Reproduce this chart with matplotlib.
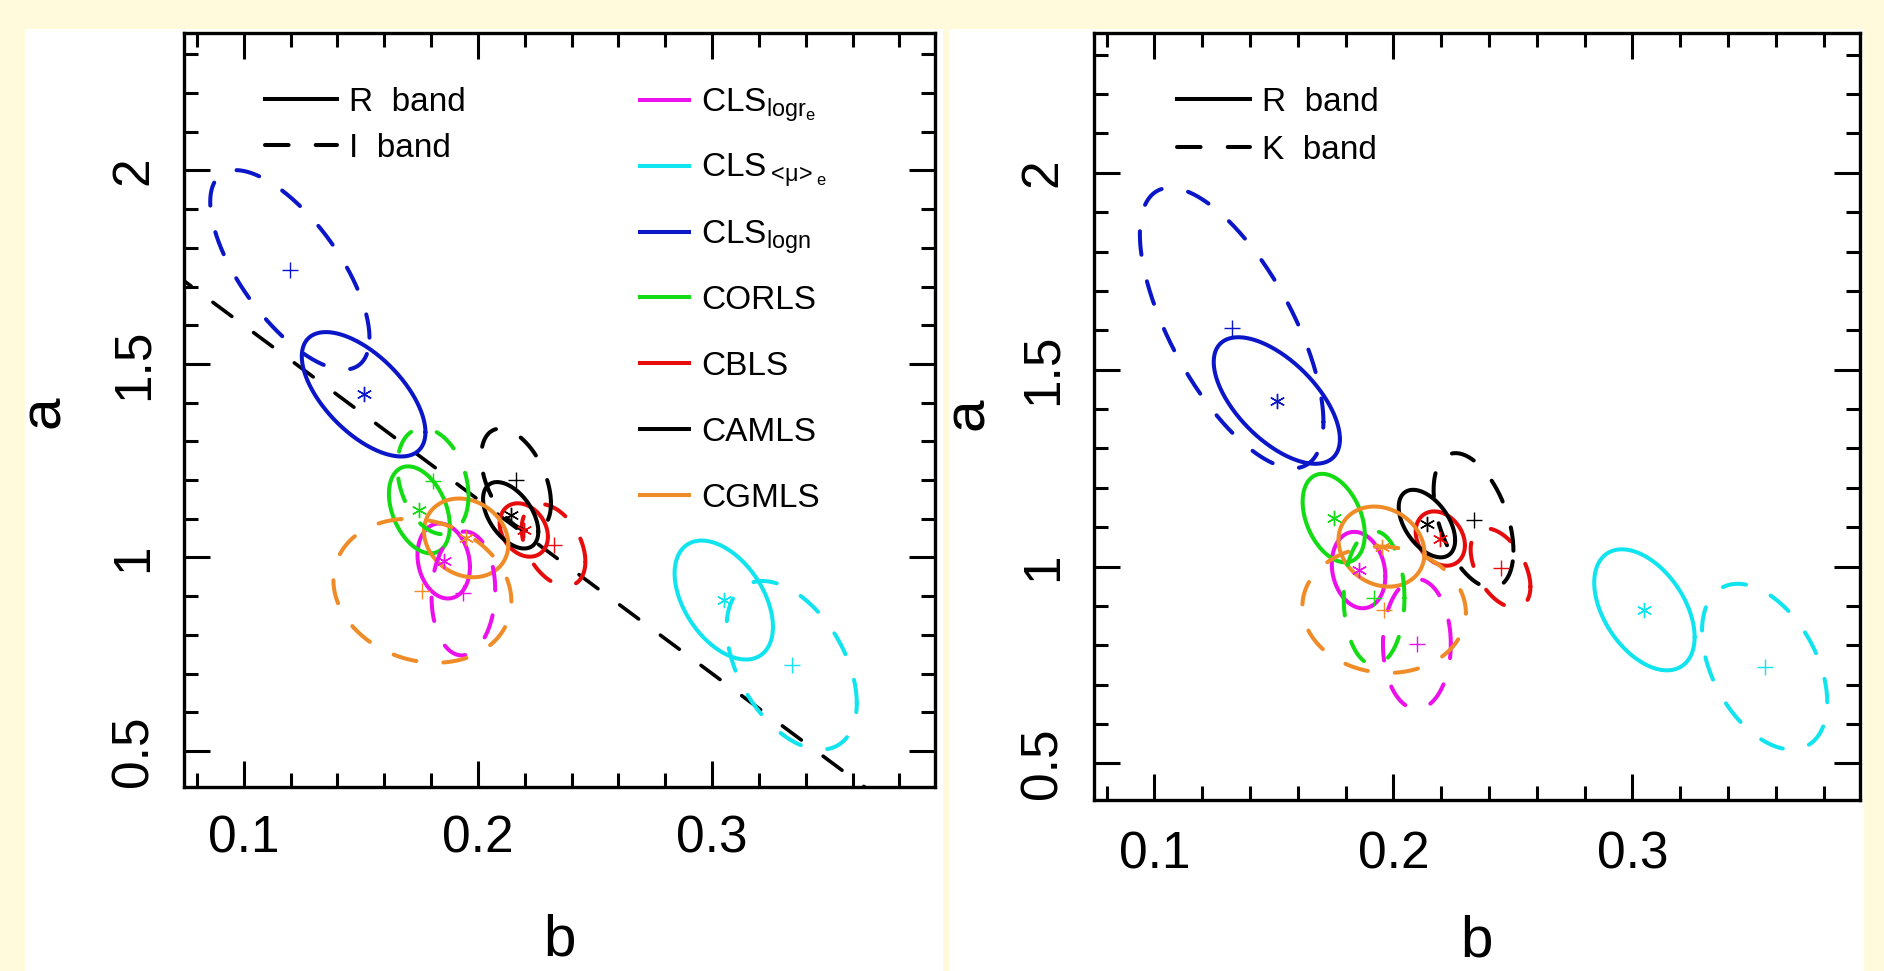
import numpy as np
import matplotlib
matplotlib.use("Agg")
import matplotlib.pyplot as plt
from matplotlib.patches import Rectangle
from matplotlib.ticker import MultipleLocator, FixedLocator

# ---------------------------------------------------------------- data
method_labels = [r"CLS$_{\mathregular{logr}_{\mathregular{e}}}$",
                 r"CLS$_{<\!\mu\!>_{\mathregular{e}}}$",
                 r"CLS$_{\mathregular{logn}}$",
                 "CORLS", "CBLS", "CAMLS", "CGMLS"]
colors = ["#ec10ec", "#10e4ee", "#0a16c8", "#14dc14", "#e60c0c", "#000000", "#f08c28"]

# R band fits (same in both panels): centre b, centre a, sigma_b, sigma_a, correlation
r_b   = [0.1854, 0.3050, 0.1512, 0.1750, 0.2196, 0.2140, 0.1950]
r_a   = [0.991, 0.890, 1.4216, 1.123, 1.071, 1.109, 1.0506]
r_sb  = [0.0112, 0.0210, 0.0264, 0.0130, 0.0103, 0.0118, 0.0180]
r_sa  = [0.0970, 0.1537, 0.1607, 0.1124, 0.0690, 0.0858, 0.1017]
r_rho = [-0.16, -0.45, -0.61, -0.37, -0.25, -0.49, -0.17]

# I band fits (left panel)
i_b   = [0.1938, 0.3340, 0.1197, 0.1808, 0.2323, 0.2163, 0.1763]
i_a   = [0.907, 0.7214, 1.743, 1.197, 1.032, 1.200, 0.914]
i_sb  = [0.0136, 0.0278, 0.0340, 0.0152, 0.0136, 0.0149, 0.0380]
i_sa  = [0.160, 0.2178, 0.2577, 0.137, 0.106, 0.133, 0.1860]
i_rho = [0.05, -0.45, -0.68, -0.28, -0.40, -0.45, -0.15]

# K band fits (right panel)
k_b   = [0.2098, 0.3553, 0.1323, 0.1919, 0.2448, 0.2335, 0.1961]
k_a   = [0.8032, 0.7457, 1.6057, 0.920, 0.996, 1.117, 0.8902]
k_sb  = [0.0142, 0.0262, 0.0384, 0.0127, 0.0125, 0.0167, 0.0342]
k_sa  = [0.165, 0.2104, 0.3562, 0.170, 0.1007, 0.171, 0.1605]
k_rho = [0.0, -0.43, -0.67, 0.0, -0.47, -0.45, -0.05]

# dashed reference line in the left panel: a = line_a0 + line_slope * b
line_a0 = 2.05
line_slope = -4.50

x_ticks = [0.1, 0.2, 0.3]
x_ticklabels = ["0.1", "0.2", "0.3"]
y_ticks = [0.5, 1.0, 1.5, 2.0]
y_ticklabels = ["0.5", "1", "1.5", "2"]

# ---------------------------------------------------------------- style
plt.rcParams["font.family"] = ["Liberation Sans", "DejaVu Sans"]
plt.rcParams["mathtext.fontset"] = "custom"
plt.rcParams["mathtext.rm"] = "Liberation Sans"
plt.rcParams["mathtext.it"] = "Liberation Sans"
plt.rcParams["mathtext.bf"] = "Liberation Sans:bold"
plt.rcParams["lines.scale_dashes"] = False

W, H = 1884, 971
BG = "#fffadc"
DASH = (0, (17, 19.5))
LW = 2.9
TICK_FS = 37
LAB_FS = 42
KEY_FS = 24

fig = plt.figure(figsize=(W / 100, H / 100), dpi=100, facecolor=BG)

# white panels (behind everything)
for (l, t, r) in [(24.5, 29, 943), (949, 29, 1864)]:
    fig.patches.append(Rectangle((l / W, 0), (r - l) / W, 1 - t / H,
                                 transform=fig.transFigure, facecolor="white",
                                 edgecolor="none", zorder=-10))

AX1_PX = (184, 33, 935, 787)
AX2_PX = (1093.5, 33, 1860, 800)


def ax_rect(p):
    l, t, r, b = p
    return [l / W, 1 - b / H, (r - l) / W, (b - t) / H]


def frac(p, x, y):
    l, t, r, b = p
    return (x - l) / (r - l), (b - y) / (b - t)


def ellipse_pts(b0, a0, sb, sa, rho, n=400):
    t = np.linspace(0, 2 * np.pi, n)
    d = np.arccos(rho)
    return b0 + sb * np.cos(t), a0 + sa * np.cos(t - d)


def setup_axes(ax, xpad, ypad):
    ax.set_xlim(0.0745, 0.3952)
    ax.set_ylim(0.407, 2.355)
    ax.set_facecolor("white")
    ax.xaxis.set_major_locator(FixedLocator(x_ticks))
    ax.set_xticklabels(x_ticklabels)
    ax.yaxis.set_major_locator(FixedLocator(y_ticks))
    ax.set_yticklabels(y_ticklabels)
    ax.xaxis.set_minor_locator(MultipleLocator(0.02))
    ax.yaxis.set_minor_locator(MultipleLocator(0.1))
    ax.tick_params(which="both", direction="in", top=True, right=True,
                   width=2.2, color="black")
    ax.tick_params(which="major", length=19, labelsize=TICK_FS)
    ax.tick_params(which="minor", length=10)
    ax.tick_params(axis="x", pad=xpad)
    ax.tick_params(axis="y", pad=ypad, labelrotation=90)
    for t in ax.get_yticklabels():
        t.set_verticalalignment("center")
    for s in ax.spines.values():
        s.set_linewidth(2.4)


def draw_fits(ax, bs, as_, sbs, sas, rhos, dashed, marker):
    for i in range(len(bs)):
        x, y = ellipse_pts(bs[i], as_[i], sbs[i], sas[i], rhos[i])
        if dashed:
            ax.plot(x, y, color=colors[i], lw=LW, ls=DASH, dash_capstyle="round", zorder=3)
        else:
            ax.plot(x, y, color=colors[i], lw=LW, solid_capstyle="round", zorder=3)
        ax.plot([bs[i]], [as_[i]], ls="none", marker=marker, ms=12 if marker == "+" else 11,
                mew=1.0, color=colors[i], zorder=4)


def key(ax, p, x0, x1, xt, y_line, y_base, text, color, ls):
    fx0, fy = frac(p, x0, y_line)
    fx1, _ = frac(p, x1, y_line)
    ftx, fty = frac(p, xt, y_base)
    if ls == "dash":
        ax.plot([fx0, fx1], [fy, fy], transform=ax.transAxes, color=color, lw=LW,
                ls=DASH, dash_capstyle="round", clip_on=False)
    else:
        ax.plot([fx0, fx1], [fy, fy], transform=ax.transAxes, color=color, lw=LW,
                clip_on=False)
    ax.text(ftx, fty, text, transform=ax.transAxes, fontsize=KEY_FS,
            ha="left", va="baseline", color="black")


# ---------------------------------------------------------------- left panel
ax1 = fig.add_axes(ax_rect(AX1_PX))
setup_axes(ax1, xpad=20, ypad=18.5)
bl = np.linspace(0.0, 0.5, 50)
ax1.plot(bl, line_a0 + line_slope * bl, color="black", lw=2.6, ls=DASH,
         dash_capstyle="round", zorder=2)
draw_fits(ax1, r_b, r_a, r_sb, r_sa, r_rho, False, (6, 2, 0))
draw_fits(ax1, i_b, i_a, i_sb, i_sa, i_rho, True, "+")

key(ax1, AX1_PX, 264.5, 337, 349, 98.5, 111, "R  band", "black", "solid")
key(ax1, AX1_PX, 264.5, 337, 349, 145, 157, "I  band", "black", "dash")
for j, lab in enumerate(method_labels):
    yl = 100 + 65.8 * j
    key(ax1, AX1_PX, 640, 689, 701, yl, yl + 12, lab, colors[j], "solid")

ax1.set_xlabel("b", fontsize=LAB_FS, va="top")
ax1.xaxis.set_label_coords(0.5, frac(AX1_PX, 0, 914)[1])
ax1.set_ylabel("a", fontsize=LAB_FS, va="center")
ax1.yaxis.set_label_coords(frac(AX1_PX, 44, 0)[0], frac(AX1_PX, 0, 412)[1])

# ---------------------------------------------------------------- right panel
ax2 = fig.add_axes(ax_rect(AX2_PX))
setup_axes(ax2, xpad=21.6, ypad=18.5)
draw_fits(ax2, r_b, r_a, r_sb, r_sa, r_rho, False, (6, 2, 0))
draw_fits(ax2, k_b, k_a, k_sb, k_sa, k_rho, True, "+")

key(ax2, AX2_PX, 1177, 1250, 1262, 98.5, 111, "R  band", "black", "solid")
key(ax2, AX2_PX, 1177, 1250, 1262, 147, 159, "K  band", "black", "dash")

ax2.set_xlabel("b", fontsize=LAB_FS, va="top")
ax2.xaxis.set_label_coords(0.5, frac(AX2_PX, 0, 914)[1])
ax2.set_ylabel("a", fontsize=LAB_FS, va="center")
ax2.yaxis.set_label_coords(frac(AX2_PX, 968, 0)[0], frac(AX2_PX, 0, 414)[1])

fig.savefig("out.png", dpi=100, facecolor=BG)
